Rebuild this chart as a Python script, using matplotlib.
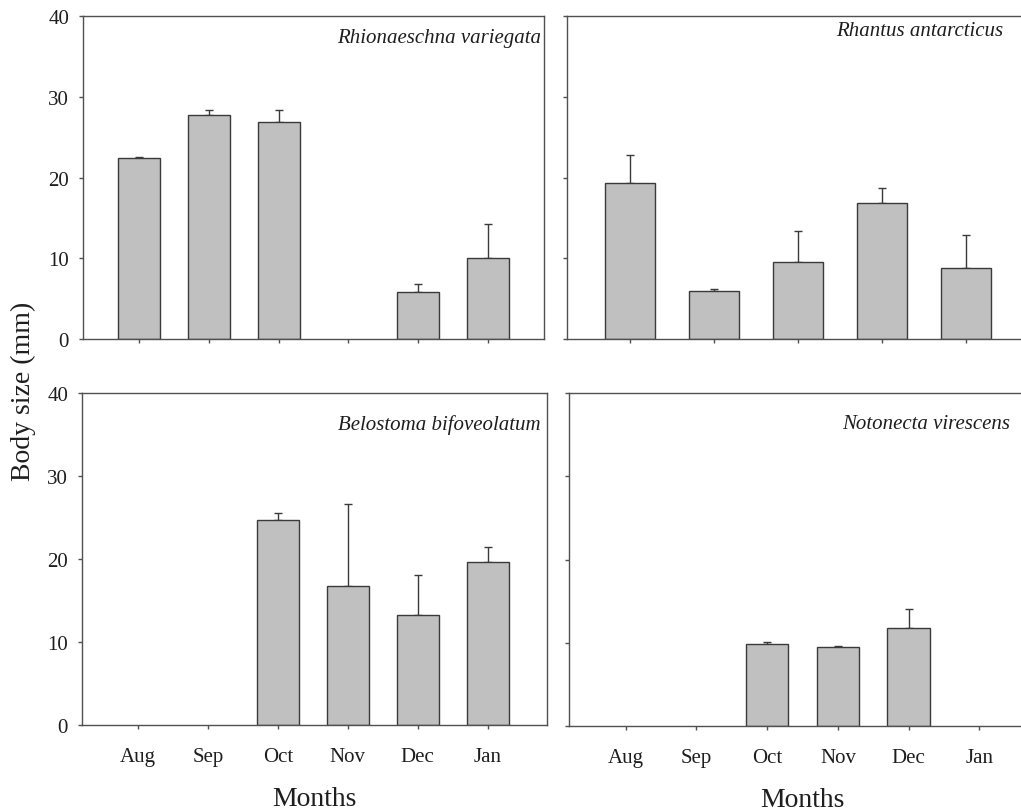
import numpy as np
import matplotlib
matplotlib.use("Agg")
import matplotlib.pyplot as plt

plt.rcParams['font.family'] = ['Liberation Serif', 'DejaVu Serif']

# data (mean body size and upper error, mm)
months = ['Aug', 'Sep', 'Oct', 'Nov', 'Dec', 'Jan']
months_rhantus = ['Aug', 'Sep', 'Oct', 'Nov', 'Dec']

rhio_mean = [22.4, 27.8, 26.9, np.nan, 5.8, 10.0]
rhio_err = [0.2, 0.5, 1.5, np.nan, 1.0, 4.3]

rhantus_mean = [19.3, 6.0, 9.5, 16.8, 8.8]
rhantus_err = [3.5, 0.15, 3.9, 1.9, 4.1]

belo_mean = [np.nan, np.nan, 24.7, 16.8, 13.2, 19.6]
belo_err = [np.nan, np.nan, 0.8, 9.8, 4.9, 1.8]

noto_mean = [np.nan, np.nan, 9.9, 9.45, 11.8, np.nan]
noto_err = [np.nan, np.nan, 0.15, 0.12, 2.2, np.nan]

W, H = 1021, 812
fig = plt.figure(figsize=(W / 100, H / 100), dpi=100)
fig.patch.set_facecolor('white')


def px_axes(l, t, r, b):
    return fig.add_axes([l / W, 1 - b / H, (r - l) / W, (b - t) / H])


line_col = '#505050'
bar_col = '#c0c0c0'
edge_col = '#3a3a3a'
txt_col = '#1e1e1e'


def panel(ax, labels, mean, err, name, xlim, name_dx, name_dy, show_xlabels, show_ylabels, right_spine):
    mean = np.array(mean, dtype=float)
    err = np.array(err, dtype=float)
    x = np.arange(len(labels))
    ok = ~np.isnan(mean)
    ax.errorbar(x[ok], mean[ok], yerr=[np.zeros(ok.sum()), err[ok]], fmt='none',
                ecolor=edge_col, elinewidth=1.0, capsize=3.2, capthick=1.0, zorder=1)
    ax.bar(x[ok], mean[ok], width=0.6, color=bar_col, edgecolor=edge_col, linewidth=1.0, zorder=2)
    ax.set_xlim(*xlim)
    ax.set_ylim(0, 40)
    ax.set_yticks([0, 10, 20, 30, 40])
    ax.set_xticks(x)
    ax.set_xticklabels(labels if show_xlabels else [])
    if not show_ylabels:
        ax.set_yticklabels([])
    for s in ax.spines.values():
        s.set_color(line_col)
        s.set_linewidth(1.0)
    ax.spines['right'].set_visible(right_spine)
    ax.tick_params(direction='out', length=3, width=1, color=line_col,
                   labelsize=15, labelcolor=txt_col)
    ax.tick_params(axis='y', pad=7)
    ax.tick_params(axis='x', pad=13)
    ax.annotate(name, xy=(1, 1), xycoords='axes fraction',
                xytext=(name_dx, name_dy), textcoords='offset pixels',
                ha='right', va='center', fontsize=15, style='italic', color=txt_col)


ax1 = px_axes(83, 17, 544, 340)
panel(ax1, months, rhio_mean, rhio_err, 'Rhionaeschna variegata', (-0.8, 5.8),
      -3, -21, False, True, True)

ax2 = px_axes(567, 17, 1029, 340)
panel(ax2, months_rhantus, rhantus_mean, rhantus_err, 'Rhantus antarcticus', (-0.75, 4.75),
      -26, -15, False, False, False)

ax3 = px_axes(82, 394, 547, 726)
panel(ax3, months, belo_mean, belo_err, 'Belostoma bifoveolatum', (-0.8, 5.85),
      -6, -31, True, True, True)
ax3.set_xlabel('Months', fontsize=20, color=txt_col, labelpad=14)

ax4 = px_axes(569, 394, 1036, 727)
panel(ax4, months, noto_mean, noto_err, 'Notonecta virescens', (-0.8, 5.8),
      -26, -31, True, False, False)
ax4.set_xlabel('Months', fontsize=20, color=txt_col, labelpad=14)

fig.text(23 / W, 1 - 391 / H, 'Body size (mm)', rotation=90, ha='center', va='center',
         fontsize=20, color=txt_col)

fig.savefig('out.png', dpi=100)
